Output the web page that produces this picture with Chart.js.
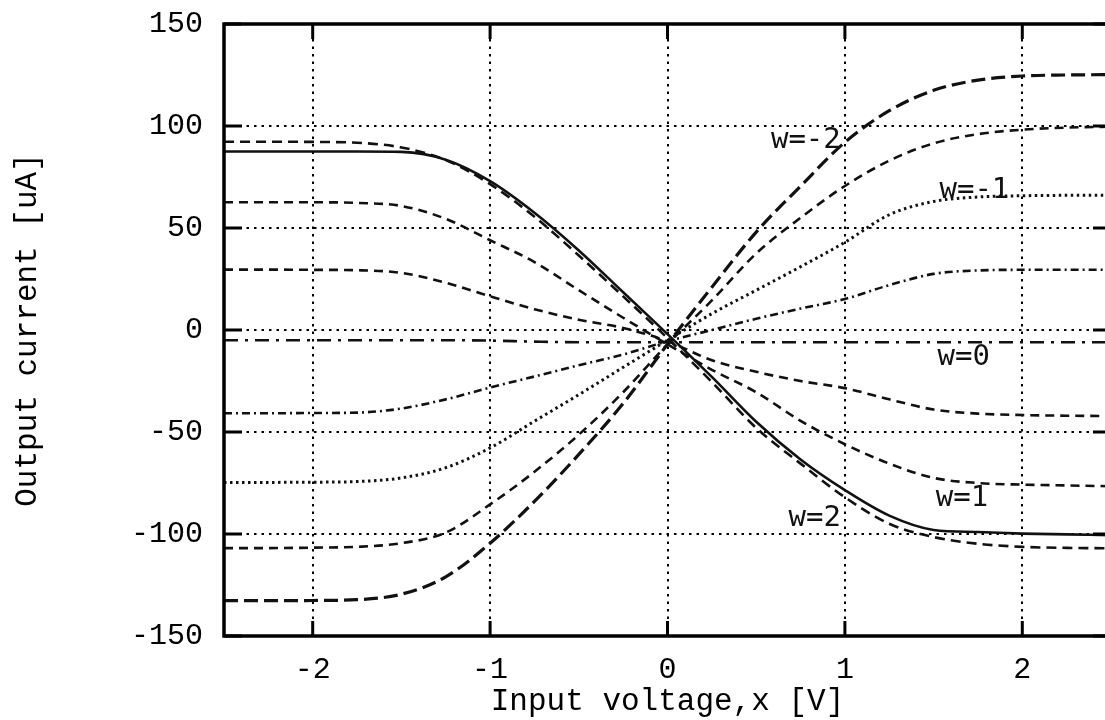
<!DOCTYPE html>
<html>
<head>
<meta charset="utf-8">
<script src="https://cdn.jsdelivr.net/npm/chart.js@4.4.1/dist/chart.umd.min.js"></script>
<style>
  html, body { margin: 0; padding: 0; background: #fff; overflow: hidden; }
  #wrap { width: 1105px; height: 720px; overflow: hidden; }
</style>
</head>
<body>
<div id="wrap"><canvas id="chart" width="1125" height="720"></canvas></div>
<script>
// ── Data ──────────────────────────────────────────────────────────────────────
// Input voltage x [V], shared by all curves
const xValues = [-2.5, -2.25, -2, -1.75, -1.5, -1.25, -1, -0.75, -0.5, -0.25, 0,
                 0.25, 0.5, 0.75, 1, 1.25, 1.5, 1.75, 2, 2.25, 2.5];

// Output current [uA] for each weight w
const iW2     = [87.5, 87.5, 87.5, 87.5, 87.3, 83.5, 73, 57.5, 39, 18.5, -2,
                 -23, -45, -63.5, -78.5, -91, -98, -99, -99.8, -100.2, -100.6];
const iW15    = [92.3, 92.3, 92.2, 91.8, 89.5, 83.3, 71.5, 55.5, 36.5, 16.5, -4,
                 -25.5, -48, -65.5, -82, -95, -101.5, -104.8, -106.3, -106.8, -107];
const iW1     = [62.6, 62.6, 62.6, 62.3, 60.8, 54.5, 44, 33.3, 19.5, 6, -7,
                 -19.5, -30.5, -44.5, -56, -65.5, -72.5, -75, -75.8, -76.2, -76.6];
const iW05    = [29.6, 29.6, 29.5, 29.3, 28, 23.2, 16.5, 10.2, 5, 1, -5.5,
                 -14.8, -20.5, -25, -28.5, -34, -39, -41, -41.7, -42, -42.2];
const iW0     = [-5, -5, -5, -5, -5, -5, -5.2, -5.7, -6, -6, -6,
                 -6, -6, -6, -6, -6, -6, -6, -6, -6, -6];
const iWm05   = [-40.8, -40.8, -40.7, -40.5, -38.5, -34, -28.2, -22.8, -17.3, -12, -5.5,
                 0, 5.5, 10.5, 15.2, 22, 27.5, 29.2, 29.5, 29.5, 29.5];
const iWm1    = [-74.7, -74.7, -74.6, -74.3, -72.5, -67.5, -57.8, -44.7, -31.7, -18.3, -5,
                 8, 19.5, 31, 43, 56.5, 63, 65.2, 65.8, 66, 66];
const iWm15   = [-106.9, -106.9, -106.7, -106.3, -104.5, -99.3, -85.5, -69.5, -51.3, -30.5, -7,
                 14.5, 37.5, 55, 70.6, 83, 91.5, 96, 98.2, 99.2, 99.7];
const iWm2    = [-132.7, -132.7, -132.6, -132.2, -129.5, -121, -104.5, -84, -61, -36, -7,
                 21, 48, 70.5, 92, 107.5, 117.5, 122.5, 124.5, 125, 125.2];

const seriesNames = ['w=2', 'w=1.5', 'w=1', 'w=0.5', 'w=0', 'w=-0.5', 'w=-1', 'w=-1.5', 'w=-2'];
const seriesData  = [iW2, iW15, iW1, iW05, iW0, iWm05, iWm1, iWm15, iWm2];

const xTicks = [-2, -1, 0, 1, 2];
const yTicks = [-150, -100, -50, 0, 50, 100, 150];

// in-plot curve labels, anchored in data units
const curveLabels = ['w=-2', 'w=-1', 'w=0', 'w=1', 'w=2'];
const curveLabelX = [0.78, 1.73, 1.67, 1.66, 0.83];
const curveLabelY = [93, 68.6, -13.7, -82.4, -92.2];

// ── Styles ────────────────────────────────────────────────────────────────────
const LINE_DASH = [[], [10, 6], [9, 6], [9, 6], [14, 7, 3, 7], [8, 4, 2, 4], [2.5, 3.5], [9, 6], [14, 6]];
const LINE_W    = [2.6, 2.6, 2.6, 2.6, 2.6, 2.6, 3, 2.6, 3.2];
const MONO      = '"Liberation Mono", "Courier New", monospace';

// ── Frame, inward ticks and curve labels (gnuplot look) ──────────────────────
const framePlugin = {
  id: 'frame',
  afterDatasetsDraw(chart) {
    const { ctx, chartArea: a, scales: { x, y } } = chart;
    ctx.save();
    ctx.strokeStyle = '#000';
    ctx.lineWidth = 3.5;
    ctx.strokeRect(a.left, a.top, a.right - a.left, a.bottom - a.top);

    ctx.lineWidth = 3;
    ctx.beginPath();
    xTicks.forEach(v => {
      const px = x.getPixelForValue(v);
      ctx.moveTo(px, a.bottom); ctx.lineTo(px, a.bottom - 15);
      ctx.moveTo(px, a.top);    ctx.lineTo(px, a.top + 15);
    });
    yTicks.forEach(v => {
      const py = y.getPixelForValue(v);
      ctx.moveTo(a.left, py);  ctx.lineTo(a.left + 18, py);
      ctx.moveTo(a.right, py); ctx.lineTo(a.right - 18, py);
    });
    ctx.stroke();

    ctx.font = '29px "DejaVu Sans Mono"';
    ctx.fillStyle = '#111';
    ctx.textAlign = 'center';
    ctx.textBaseline = 'middle';
    curveLabels.forEach((t, i) => {
      ctx.fillText(t, x.getPixelForValue(curveLabelX[i]), y.getPixelForValue(curveLabelY[i]));
    });
    ctx.restore();
  }
};

const datasets = seriesNames.map((name, i) => ({
  label: name,
  data: xValues.map((xv, j) => ({ x: xv, y: seriesData[i][j] })),
  borderColor: '#111',
  borderWidth: LINE_W[i],
  borderDash: LINE_DASH[i],
  pointRadius: 0,
  cubicInterpolationMode: 'monotone',
  showLine: true,
  fill: false,
}));

new Chart(document.getElementById('chart').getContext('2d'), {
  type: 'scatter',
  data: { datasets },
  plugins: [framePlugin],
  options: {
    responsive: false,
    devicePixelRatio: 1,
    animation: false,
    layout: { padding: { top: 24, right: 14, left: 0, bottom: 0 } },
    plugins: { legend: { display: false }, tooltip: { enabled: false } },
    scales: {
      x: {
        type: 'linear',
        min: -2.5, max: 2.5,
        afterBuildTicks: s => { s.ticks = xTicks.map(v => ({ value: v })); },
        afterFit: s => { s.height = 84; },
        grid: { color: '#000', lineWidth: 2, drawTicks: false },
        border: { display: false, dash: [2.5, 5] },
        ticks: { color: '#000', font: { family: MONO, size: 30 }, padding: 16, maxRotation: 0 },
        title: {
          display: true, text: 'Input voltage,x [V]', color: '#000',
          font: { family: MONO, size: 31 }, padding: { top: 0, bottom: 0 },
        },
      },
      y: {
        type: 'linear',
        min: -150, max: 150,
        afterBuildTicks: s => { s.ticks = yTicks.map(v => ({ value: v })); },
        afterFit: s => { s.width = 224; s.paddingTop = 0; s.paddingBottom = 0; },
        grid: { color: '#000', lineWidth: 2, drawTicks: false },
        border: { display: false, dash: [2.5, 5] },
        ticks: { color: '#000', font: { family: MONO, size: 30 }, padding: 21 },
        title: {
          display: true, text: 'Output current [uA]', color: '#000',
          font: { family: MONO, size: 31 }, padding: { top: 9, bottom: 0 },
        },
      },
    },
  },
});
</script>
</body>
</html>
